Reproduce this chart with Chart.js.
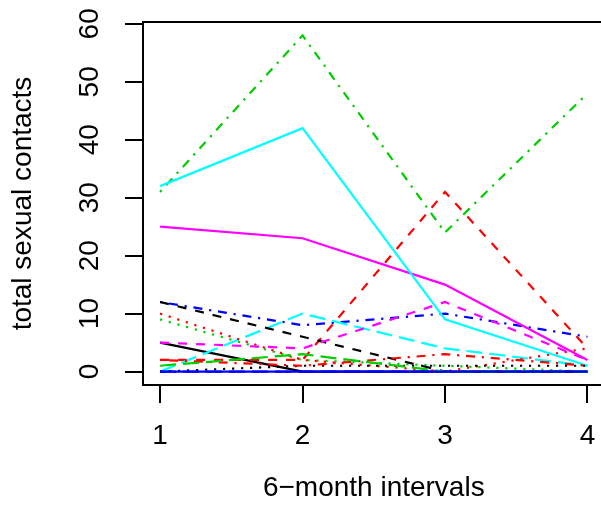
<!DOCTYPE html>
<html>
<head>
<meta charset="utf-8">
<script src="https://cdn.jsdelivr.net/npm/chart.js@4.4.1/dist/chart.umd.min.js"></script>
<style>
  html, body { margin: 0; padding: 0; overflow: hidden; background: #fff; }
  #chart { display: block; }
</style>
</head>
<body>
<canvas id="chart" width="612" height="506"></canvas>
<script>
// x positions (6-month intervals) and axis ticks
const intervals = [1, 2, 3, 4];
const xTicks = [1, 2, 3, 4];
const yTicks = [0, 10, 20, 30, 40, 50, 60];

// total sexual contacts, one array per subject
const s1 = [5, 0, 0, 0];
const s2 = [2, 2, 31, 4];
const s3 = [9, 2, 1, 0];
const s4 = [12, 8, 10, 6];
const s5 = [0, 10, 4, 1];
const s6 = [25, 23, 15, 2];
const s7 = [12, 6, 0, 0];
const s8 = [10, 2, 0, 4];
const s9 = [31, 58, 24, 48];
const s10 = [0, 0, 0, 0];
const s11 = [32, 42, 9, 1];
const s12 = [5, 4, 12, 2];
const s13 = [0, 1, 1, 1];
const s14 = [2, 1, 3, 1];
const s15 = [1, 3, 0, 0];
const s16 = [0, 0, 0, 0];
const subjects = [s1, s2, s3, s4, s5, s6, s7, s8, s9, s10, s11, s12, s13, s14, s15, s16];

// matplot style: colours 1:6 and line types 1:5 recycled
const palette = ["#000000", "#FF0000", "#00CD00", "#0000FF", "#00FFFF", "#FF00FF"];
const dashes = [[], [9, 9], [2.2, 6.8], [2.2, 6.8, 9, 6.8], [16, 7]];

const fontFamily = '"Liberation Sans", Arial, sans-serif';
const fontSize = 28;

let datasets = subjects.map((vals, i) => ({
    label: "subject " + (i + 1),
    data: vals.map((v, j) => ({ x: intervals[j], y: v })),
    borderColor: palette[i % 6],
    borderDash: dashes[i % 5],
    borderWidth: 2.2,
    borderCapStyle: "butt",
    pointRadius: 0,
    tension: 0,
    fill: false,
    order: -i
}));

// box round the plot and y labels written along the axis, like base R
const rBox = {
    id: "rBox",
    afterDraw(chart) {
        const ctx = chart.ctx;
        const a = chart.chartArea;
        ctx.save();
        ctx.strokeStyle = "#000";
        ctx.lineWidth = 2;
        ctx.strokeRect(a.left, a.top, a.right - a.left, a.bottom - a.top);

        const yScale = chart.scales.y;
        ctx.fillStyle = "#000";
        ctx.font = fontSize + "px " + fontFamily;
        ctx.textAlign = "center";
        ctx.textBaseline = "middle";
        yScale.ticks.forEach(t => {
            ctx.save();
            ctx.translate(90.3, yScale.getPixelForValue(t.value));
            ctx.rotate(-Math.PI / 2);
            ctx.fillText(String(t.value), 0, 0);
            ctx.restore();
        });
        ctx.restore();
    }
};

new Chart(document.getElementById("chart"), {
    type: "line",
    data: { datasets: datasets },
    options: {
        responsive: false,
        animation: false,
        devicePixelRatio: 1,
        layout: { padding: { top: 22, right: 7, left: 0, bottom: 0 } },
        plugins: {
            legend: { display: false },
            tooltip: { enabled: false }
        },
        scales: {
            x: {
                type: "linear",
                min: 0.88,
                max: 4.12,
                afterBuildTicks: s => { s.ticks = xTicks.map(v => ({ value: v })); },
                afterFit: s => { s.height = 121; },
                grid: { drawOnChartArea: false, drawTicks: true, tickLength: 18, color: "#000", lineWidth: 2 },
                border: { display: true, color: "#000", width: 2 },
                ticks: {
                    color: "#000",
                    font: { family: fontFamily, size: fontSize },
                    padding: 16.5,
                    maxRotation: 0,
                    autoSkip: false
                },
                title: {
                    display: true,
                    text: "6\u2212month intervals",
                    color: "#000",
                    font: { family: fontFamily, size: fontSize },
                    padding: { top: 0, bottom: 1.2 }
                }
            },
            y: {
                type: "linear",
                min: -2.32,
                max: 60.32,
                afterBuildTicks: s => { s.ticks = yTicks.map(v => ({ value: v })); },
                afterFit: s => { s.width = 143; },
                grid: { drawOnChartArea: false, drawTicks: true, tickLength: 18, color: "#000", lineWidth: 2 },
                border: { display: true, color: "#000", width: 2 },
                ticks: { display: false },
                title: {
                    display: true,
                    text: "total sexual contacts",
                    color: "#000",
                    font: { family: fontFamily, size: fontSize },
                    padding: { top: 6.5, bottom: 0 }
                }
            }
        }
    },
    plugins: [rBox]
});
</script>
</body>
</html>
